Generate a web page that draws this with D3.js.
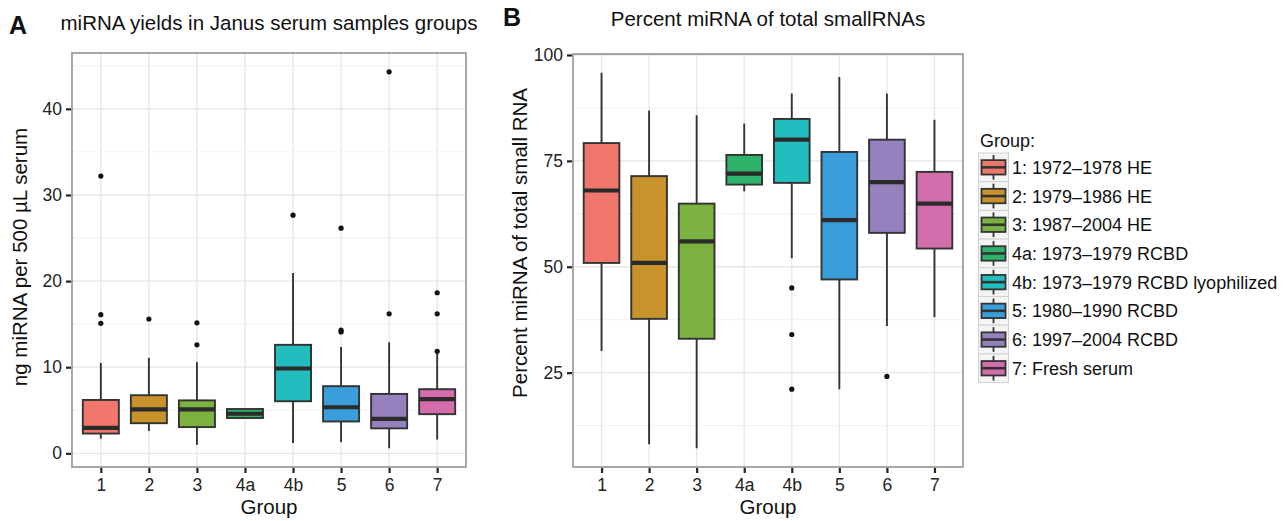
<!DOCTYPE html>
<html>
<head>
<meta charset="utf-8">
<script src="https://cdn.jsdelivr.net/npm/d3@7"></script>
<style>
  body { margin: 0; background: #fff; }
  text { font-family: "Liberation Sans", Arial, Helvetica, sans-serif; }
</style>
</head>
<body>
<div id="chart"></div>
<script>
const width = 1287;
const height = 521;

// Groups and legend labels
const groups = ["1", "2", "3", "4a", "4b", "5", "6", "7"];
const groupLabels = [
    "1: 1972–1978 HE",
    "2: 1979–1986 HE",
    "3: 1987–2004 HE",
    "4a: 1973–1979 RCBD",
    "4b: 1973–1979 RCBD lyophilized",
    "5: 1980–1990 RCBD",
    "6: 1997–2004 RCBD",
    "7: Fresh serum"
];
const colors = ["#F1776E", "#C8932B", "#7BB240", "#2DB46A", "#22BDBF", "#3A9EDA", "#9581BD", "#D46DAB"];

// Panel A: ng miRNA per 500 uL serum
const yieldLow = [1.7, 2.6, 1.0, 4.1, 1.2, 1.3, 0.6, 1.6];
const yieldQ1 = [2.3, 3.5, 3.05, 4.1, 6.05, 3.7, 2.9, 4.55];
const yieldMedian = [2.95, 5.1, 5.1, 4.6, 9.85, 5.35, 4.0, 6.3];
const yieldQ3 = [6.2, 6.75, 6.15, 5.15, 12.6, 7.8, 6.9, 7.45];
const yieldHigh = [10.5, 11.1, 10.6, 5.15, 20.95, 12.35, 12.9, 11.6];
const yieldOutliers = [[15.1, 16.1, 32.2], [15.6], [12.6, 15.15], [], [27.65], [14.1, 14.3, 26.15], [16.2, 44.3], [11.85, 16.2, 18.65]];
const yieldTicks = [0, 10, 20, 30, 40];
const yieldMinor = [5, 15, 25, 35, 45];

// Panel B: percent miRNA of total small RNA
const pctLow = [30.1, 8.1, 7.15, 67.8, 52.0, 21.1, 36.0, 38.1];
const pctQ1 = [50.9, 37.7, 33.0, 69.4, 69.8, 47.0, 58.0, 54.3];
const pctMedian = [68.0, 50.9, 56.0, 72.0, 80.0, 61.0, 70.0, 64.9];
const pctQ3 = [79.2, 71.4, 64.9, 76.4, 84.9, 77.1, 80.0, 72.4];
const pctHigh = [95.8, 86.9, 85.8, 83.8, 90.9, 94.8, 90.9, 84.7];
const pctOutliers = [[], [], [], [], [45.0, 34.0, 21.1], [], [24.1], []];
const pctTicks = [25, 50, 75, 100];
const pctMinor = [12.5, 37.5, 62.5, 87.5];

const svg = d3.select("#chart")
    .append("svg")
    .attr("width", width)
    .attr("height", height);

function rows(low, q1, med, q3, high, outl) {
    return groups.map((g, i) => ({
        group: g, low: low[i], q1: q1[i], med: med[i], q3: q3[i], high: high[i],
        outliers: outl[i], color: colors[i]
    }));
}

function drawPanel(opt) {
    const data = opt.data;
    // ggplot style 5% expansion
    const lo = d3.min(data, d => Math.min(d.low, ...d.outliers));
    const hi = d3.max(data, d => Math.max(d.high, ...d.outliers));
    const pad = (hi - lo) * 0.05;

    const x = d3.scalePoint()
        .domain(groups)
        .range([opt.left, opt.right])
        .padding(0.6);
    const y = d3.scaleLinear()
        .domain([lo - pad, hi + pad])
        .range([opt.bottom, opt.top]);

    const g = svg.append("g");

    // grid
    g.selectAll(".minor")
        .data(opt.minor.filter(v => y(v) > opt.top && y(v) < opt.bottom))
        .enter().append("line")
        .attr("x1", opt.left).attr("x2", opt.right)
        .attr("y1", d => y(d)).attr("y2", d => y(d))
        .attr("stroke", "#F1F1F1").attr("stroke-width", 0.9);
    g.selectAll(".majorY")
        .data(opt.ticks)
        .enter().append("line")
        .attr("x1", opt.left).attr("x2", opt.right)
        .attr("y1", d => y(d)).attr("y2", d => y(d))
        .attr("stroke", "#E6E6E6").attr("stroke-width", 1.3);
    g.selectAll(".majorX")
        .data(groups)
        .enter().append("line")
        .attr("x1", d => x(d)).attr("x2", d => x(d))
        .attr("y1", opt.top).attr("y2", opt.bottom)
        .attr("stroke", "#E6E6E6").attr("stroke-width", 1.3);

    const bw = x.step() * 0.75;
    const boxes = g.selectAll(".box")
        .data(data)
        .enter().append("g")
        .attr("transform", d => `translate(${x(d.group)},0)`);

    boxes.append("line")
        .attr("y1", d => y(d.low)).attr("y2", d => y(d.high))
        .attr("stroke", "#333").attr("stroke-width", 1.9);
    boxes.append("rect")
        .attr("x", -bw / 2).attr("width", bw)
        .attr("y", d => y(d.q3))
        .attr("height", d => y(d.q1) - y(d.q3))
        .attr("fill", d => d.color)
        .attr("stroke", "#333").attr("stroke-width", 1.9);
    boxes.append("line")
        .attr("x1", -bw / 2).attr("x2", bw / 2)
        .attr("y1", d => y(d.med)).attr("y2", d => y(d.med))
        .attr("stroke", "#2B2B2B").attr("stroke-width", 4.2);
    boxes.selectAll("circle")
        .data(d => d.outliers)
        .enter().append("circle")
        .attr("r", 2.6)
        .attr("cy", d => y(d))
        .attr("fill", "#111");

    // border
    g.append("rect")
        .attr("x", opt.left).attr("y", opt.top)
        .attr("width", opt.right - opt.left).attr("height", opt.bottom - opt.top)
        .attr("fill", "none").attr("stroke", "#999").attr("stroke-width", 1.7);

    // axes
    const yAxis = g.append("g")
        .attr("transform", `translate(${opt.left - 1},0)`)
        .call(d3.axisLeft(y).tickValues(opt.ticks).tickSize(5).tickPadding(4));
    const xAxis = g.append("g")
        .attr("transform", `translate(0,${opt.bottom + 1})`)
        .call(d3.axisBottom(x).tickSize(5).tickPadding(6));
    [yAxis, xAxis].forEach(a => {
        a.select(".domain").remove();
        a.selectAll(".tick line").attr("stroke", "#222").attr("stroke-width", 2.2);
        a.selectAll(".tick text")
            .attr("fill", "#222")
            .style("font-size", "17.5px")
            .style("font-family", "'Liberation Sans', Arial, sans-serif");
    });

    // titles
    g.append("text")
        .attr("x", (opt.left + opt.right) / 2)
        .attr("y", opt.titleY)
        .attr("text-anchor", "middle")
        .style("font-size", "20.5px")
        .attr("fill", "#111")
        .text(opt.title);
    g.append("text")
        .attr("x", opt.letterX).attr("y", opt.letterY)
        .style("font-size", "25px").style("font-weight", "bold")
        .attr("fill", "#111")
        .text(opt.letter);
    g.append("text")
        .attr("x", (opt.left + opt.right) / 2)
        .attr("y", 514)
        .attr("text-anchor", "middle")
        .style("font-size", "20.5px")
        .attr("fill", "#111")
        .text("Group");
    g.append("text")
        .attr("transform", `translate(${opt.yTitleX},${opt.yTitleY}) rotate(-90)`)
        .attr("text-anchor", "middle")
        .style("font-size", "20.5px")
        .attr("fill", "#111")
        .text(opt.yTitle);
}

drawPanel({
    data: rows(yieldLow, yieldQ1, yieldMedian, yieldQ3, yieldHigh, yieldOutliers),
    left: 72, right: 466, top: 53, bottom: 467,
    ticks: yieldTicks, minor: yieldMinor,
    title: "miRNA yields in Janus serum samples groups", titleY: 30,
    letter: "A", letterX: 9, letterY: 34,
    yTitle: "ng miRNA per 500 µL serum", yTitleX: 27, yTitleY: 257
});

drawPanel({
    data: rows(pctLow, pctQ1, pctMedian, pctQ3, pctHigh, pctOutliers),
    left: 573, right: 963, top: 54, bottom: 467,
    ticks: pctTicks, minor: pctMinor,
    title: "Percent miRNA of total smallRNAs", titleY: 26,
    letter: "B", letterX: 503, letterY: 26,
    yTitle: "Percent miRNA of total small RNA", yTitleX: 527, yTitleY: 243
});

// Legend
const legend = svg.append("g");
legend.append("text")
    .attr("x", 980).attr("y", 147)
    .style("font-size", "18px")
    .attr("fill", "#111")
    .text("Group:");

const keyH = 28.7, keyW = 30, keyX = 978.5, keyY = 153;
const keys = legend.selectAll(".key")
    .data(groupLabels)
    .enter().append("g")
    .attr("transform", (d, i) => `translate(${keyX},${keyY + i * keyH})`);

keys.append("rect")
    .attr("width", keyW).attr("height", keyH)
    .attr("fill", "#F4F4F4").attr("stroke", "#D0D0D0").attr("stroke-width", 1);
keys.append("line")
    .attr("x1", keyW / 2).attr("x2", keyW / 2)
    .attr("y1", 2).attr("y2", keyH - 2)
    .attr("stroke", "#333").attr("stroke-width", 1.8);
keys.append("rect")
    .attr("x", 3).attr("width", keyW - 6)
    .attr("y", keyH / 2 - 7.2).attr("height", 14.4)
    .attr("fill", (d, i) => colors[i])
    .attr("stroke", "#333").attr("stroke-width", 1.8);
keys.append("line")
    .attr("x1", 3).attr("x2", keyW - 3)
    .attr("y1", keyH / 2).attr("y2", keyH / 2)
    .attr("stroke", "#333").attr("stroke-width", 2.6);
keys.append("text")
    .attr("x", keyW + 3.5)
    .attr("y", keyH / 2 + 6.5)
    .style("font-size", "18px")
    .attr("fill", "#111")
    .text(d => d);
</script>
</body>
</html>
